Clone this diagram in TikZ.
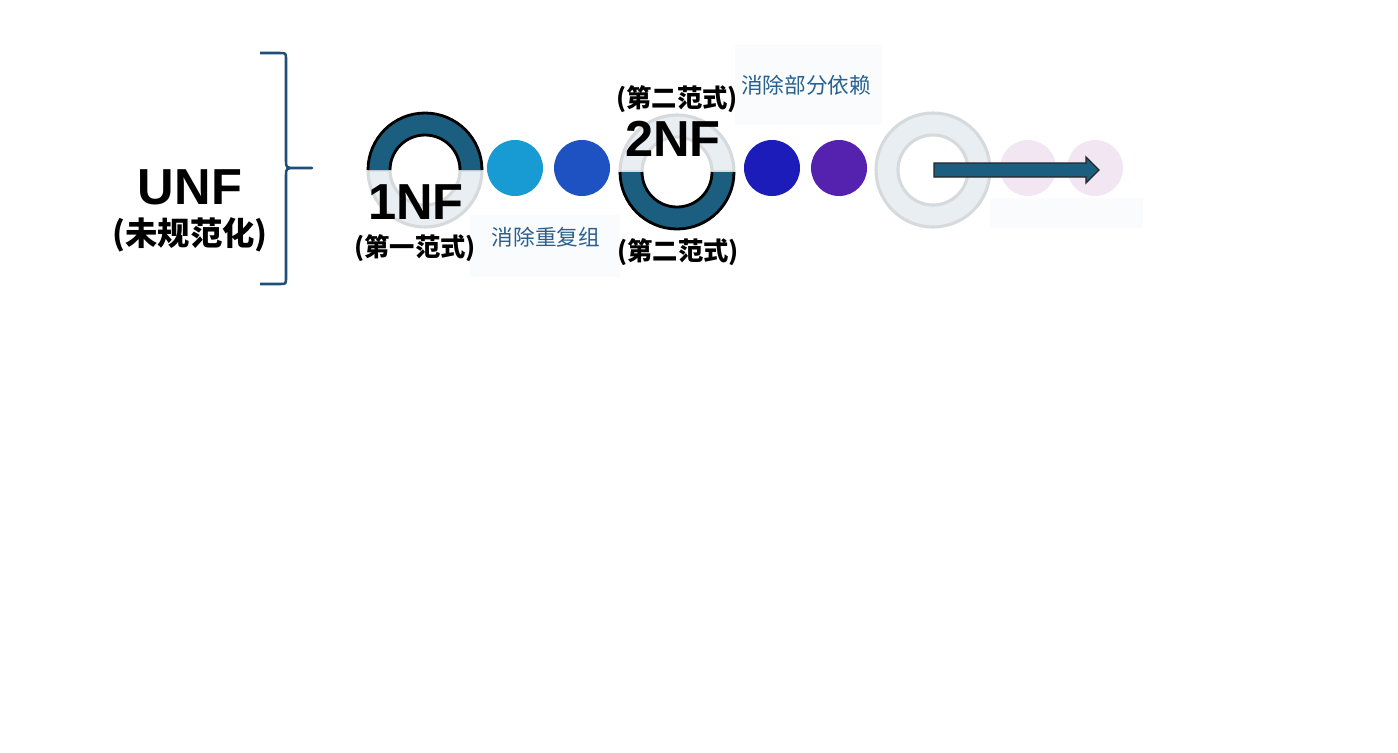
\documentclass[tikz,border=0pt]{standalone}
\usepackage{fontspec}
\setmainfont{Liberation Sans}
\newfontfamily\cjk{Noto Sans CJK SC}
\usetikzlibrary{positioning}
\definecolor{ringblue}{HTML}{1B5E80}
\definecolor{palefill}{HTML}{E8EEF1}
\definecolor{paleline}{HTML}{D6DADC}
\definecolor{noteblue}{HTML}{28618F}
\definecolor{bracecol}{HTML}{1F4E79}
\definecolor{boxgray}{HTML}{FAFBFC}
\definecolor{dotA}{HTML}{189BD2}
\definecolor{dotB}{HTML}{1E52C2}
\definecolor{dotC}{HTML}{1B1CB9}
\definecolor{dotD}{HTML}{5522B0}
\definecolor{dotE}{HTML}{F3E6F3}

\begin{document}
\begin{tikzpicture}[x=0.025cm,y=0.025cm,node distance=1.675cm,semithick]
  \tikzstyle{dot}=[circle,minimum size=1.4cm,inner sep=0pt,draw=none]
  \tikzstyle{halfpale}=[fill=palefill,draw=paleline,line width=2.2pt]
  \tikzstyle{rim}=[draw=black,line width=2pt]
  \tikzstyle{big}=[font=\bfseries\fontsize{36}{36}\selectfont,inner sep=0pt]
  \tikzstyle{sub}=[font=\cjk\bfseries\fontsize{18}{18}\selectfont,inner sep=0pt]
  \tikzstyle{note}=[font=\cjk\fontsize{15.4}{16}\selectfont,text=noteblue,inner sep=0pt]
  \tikzstyle{shade}=[fill=boxgray,draw=none]

  \fill[white] (0,0) rectangle (1398,-752);
  \useasboundingbox (0,0) rectangle (1398,-752);

  % faint boxes behind the notes
  \fill[shade] (470,-215) rectangle (620,-277);
  \fill[shade] (735,-45) rectangle (882,-125);
  \fill[shade] (990,-198) rectangle (1143,-228);

  % left brace
  \coordinate (btop) at (260,-53);
  \coordinate (btip) at (312,-168);
  \coordinate (bbot) at (260,-284);
  \draw[bracecol,line width=1.8pt,line join=round]
    (btop) -- (280,-53) .. controls (286,-53) .. (286,-60) -- (286,-160)
    .. controls (286,-168) .. (296,-168) -- (btip) -- (296,-168)
    .. controls (286,-168) .. (286,-176) -- (286,-277)
    .. controls (286,-284) .. (280,-284) -- (bbot);

  \node[big] (unf) at (190,-187) {UNF};
  \node[font=\cjk\bfseries\fontsize{23}{23}\selectfont,inner sep=0pt] (unfsub) at (190,-235) {(未规范化)};

  % 1NF ring, upper half dark
  \coordinate (r1) at (425,-170);
  \filldraw[halfpale] (r1) ++(180:57) arc[start angle=180,end angle=360,radius=57]
    -- ++(-22,0) arc[start angle=360,end angle=180,radius=35] -- cycle;
  \fill[ringblue] (r1) ++(180:57) arc[start angle=180,end angle=0,radius=57]
    -- ++(-22,0) arc[start angle=0,end angle=180,radius=35] -- cycle;
  \draw[rim] (r1) ++(180:57) arc[start angle=180,end angle=0,radius=57]
    (r1) ++(0:35) arc[start angle=0,end angle=180,radius=35];

  % 2NF ring, lower half dark
  \coordinate (r2) at (677,-172);
  \filldraw[halfpale] (r2) ++(180:57) arc[start angle=180,end angle=0,radius=57]
    -- ++(-22,0) arc[start angle=0,end angle=180,radius=35] -- cycle;
  \fill[ringblue] (r2) ++(180:57) arc[start angle=180,end angle=360,radius=57]
    -- ++(-22,0) arc[start angle=360,end angle=180,radius=35] -- cycle;
  \draw[rim] (r2) ++(180:57) arc[start angle=180,end angle=360,radius=57]
    (r2) ++(0:35) arc[start angle=360,end angle=180,radius=35];

  % third ring, all pale
  \coordinate (r3) at (933,-170);
  \filldraw[halfpale,even odd rule] (r3) circle[radius=57] (r3) circle[radius=35];

  \node[dot,fill=dotA] (d1) at (515,-168) {};
  \node[dot,fill=dotB] (d2) [right of=d1] {};
  \node[dot,fill=dotC] (d3) at (772,-168) {};
  \node[dot,fill=dotD] (d4) [right of=d3] {};
  \node[dot,fill=dotE] (p1) at (1028,-168) {};
  \node[dot,fill=dotE] (p2) [right of=p1] {};

  % block arrow out of the third ring
  \draw[fill=ringblue,draw=black!85,line width=0.9pt] (r3) ++(1,7) -- ++(152,0) -- ++(0,6)
    -- ++(13,-13) -- ++(-13,-13) -- ++(0,6) -- ++(-152,0) -- cycle;

  \node[big] (nf1) at (416,-202) {1NF};
  \node[sub] (nf1sub) at (415,-248) {(第一范式)};
  \node[note] (n1) at (546,-237) {消除重复组};

  \node[sub] (nf2top) at (677,-99) {(第二范式)};
  \node[big] (nf2) at (673,-139) {2NF};
  \node[sub] (nf2sub) at (678,-252) {(第二范式)};
  \node[note] (n2) at (806,-85) {消除部分依赖};
\end{tikzpicture}
\end{document}
